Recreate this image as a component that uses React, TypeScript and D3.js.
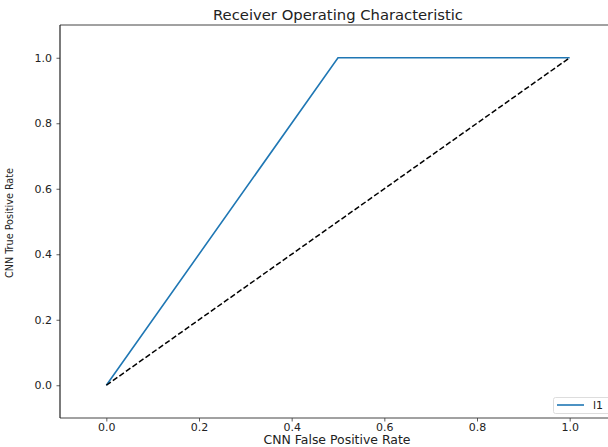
import React, { useEffect, useRef } from 'react'
import * as d3 from 'd3'

const fpr = [0, 0.5, 1]
const tpr = [0, 1, 1]
const chanceX = [0, 1]
const chanceY = [0, 1]
const xTicks = [0, 0.2, 0.4, 0.6, 0.8, 1.0]
const yTicks = [0, 0.2, 0.4, 0.6, 0.8, 1.0]
const seriesLabel = 'l1'

const W = 608
const H = 447
const FONT = '"DejaVu Sans", sans-serif'

export default function App() {
  const ref = useRef<SVGSVGElement | null>(null)

  useEffect(() => {
    const el = ref.current
    if (!el) return
    document.body.style.margin = '0'
    const svg = d3.select(el)
    svg.selectAll('*').remove()

    const x = d3.scaleLinear().domain([-0.1, 1.1]).range([60, 616])
    const y = d3.scaleLinear().domain([-0.1, 1.1]).range([418, 25])

    const g = svg.append('g')

    const line = d3.line<[number, number]>().x(d => x(d[0])).y(d => y(d[1]))

    g.append('path')
      .datum(fpr.map((v, i) => [v, tpr[i]] as [number, number]))
      .attr('fill', 'none')
      .attr('stroke', '#1f77b4')
      .attr('stroke-width', 1.6)
      .attr('d', line)

    g.append('path')
      .datum(chanceX.map((v, i) => [v, chanceY[i]] as [number, number]))
      .attr('fill', 'none')
      .attr('stroke', '#000')
      .attr('stroke-width', 1.5)
      .attr('stroke-dasharray', '5.5,2.5')
      .attr('d', line)

    const xAxis = d3.axisBottom(x).tickValues(xTicks).tickFormat(d3.format('.1f')).tickSizeOuter(0).tickSize(3.5)
    const yAxis = d3.axisLeft(y).tickValues(yTicks).tickFormat(d3.format('.1f')).tickSizeOuter(0).tickSize(3.5)

    const xa = g.append('g').attr('transform', `translate(0,${y(-0.1)})`).call(xAxis)
    const ya = g.append('g').attr('transform', `translate(${x(-0.1)},0)`).call(yAxis)

    for (const a of [xa, ya]) {
      a.select('.domain').remove()
      a.selectAll('.tick line').attr('stroke', '#333').attr('stroke-width', 0.8)
      a.selectAll('text').attr('fill', '#222').attr('font-family', FONT).attr('font-size', 11)
    }
    xa.selectAll('text').attr('y', 5.5).attr('dy', '0.71em')
    ya.selectAll('text').attr('x', -8)

    // spines
    g.append('line').attr('x1', 60).attr('x2', W).attr('y1', 25).attr('y2', 25).attr('stroke', '#444').attr('stroke-width', 1)
    g.append('line').attr('x1', 60).attr('x2', W).attr('y1', 418).attr('y2', 418).attr('stroke', '#444').attr('stroke-width', 1)
    g.append('line').attr('x1', 60).attr('x2', 60).attr('y1', 25).attr('y2', 418).attr('stroke', '#222').attr('stroke-width', 1.2)

    svg.append('text')
      .attr('x', 338).attr('y', 20)
      .attr('text-anchor', 'middle')
      .attr('font-family', FONT).attr('font-size', 13.5).attr('fill', '#222')
      .attr('textLength', 250).attr('lengthAdjust', 'spacingAndGlyphs')
      .text('Receiver Operating Characteristic')

    svg.append('text')
      .attr('x', 337).attr('y', 444)
      .attr('text-anchor', 'middle')
      .attr('font-family', FONT).attr('font-size', 11.5).attr('fill', '#222')
      .attr('textLength', 147).attr('lengthAdjust', 'spacingAndGlyphs')
      .text('CNN False Positive Rate')

    svg.append('text')
      .attr('transform', 'translate(13,223) rotate(-90)')
      .attr('text-anchor', 'middle')
      .attr('font-family', '"DejaVu Sans Condensed", "Liberation Sans Narrow", "Liberation Sans", sans-serif')
      .attr('font-size', 11).attr('fill', '#222')
      .attr('textLength', 110).attr('lengthAdjust', 'spacingAndGlyphs')
      .text('CNN True Positive Rate')

    // legend
    const lg = svg.append('g')
    lg.append('rect')
      .attr('x', 553.5).attr('y', 397.5).attr('width', 70).attr('height', 16).attr('rx', 2)
      .attr('fill', '#fff').attr('stroke', '#ddd')
    lg.append('line').attr('x1', 557).attr('x2', 584).attr('y1', 405).attr('y2', 405)
      .attr('stroke', '#1f77b4').attr('stroke-width', 1.6)
    lg.append('text').attr('x', 593).attr('y', 409)
      .attr('font-family', FONT).attr('font-size', 11).attr('fill', '#222')
      .text(seriesLabel)
  }, [])

  return <svg ref={ref} width={W} height={H} style={{ display: 'block', background: '#fff' }} />
}
